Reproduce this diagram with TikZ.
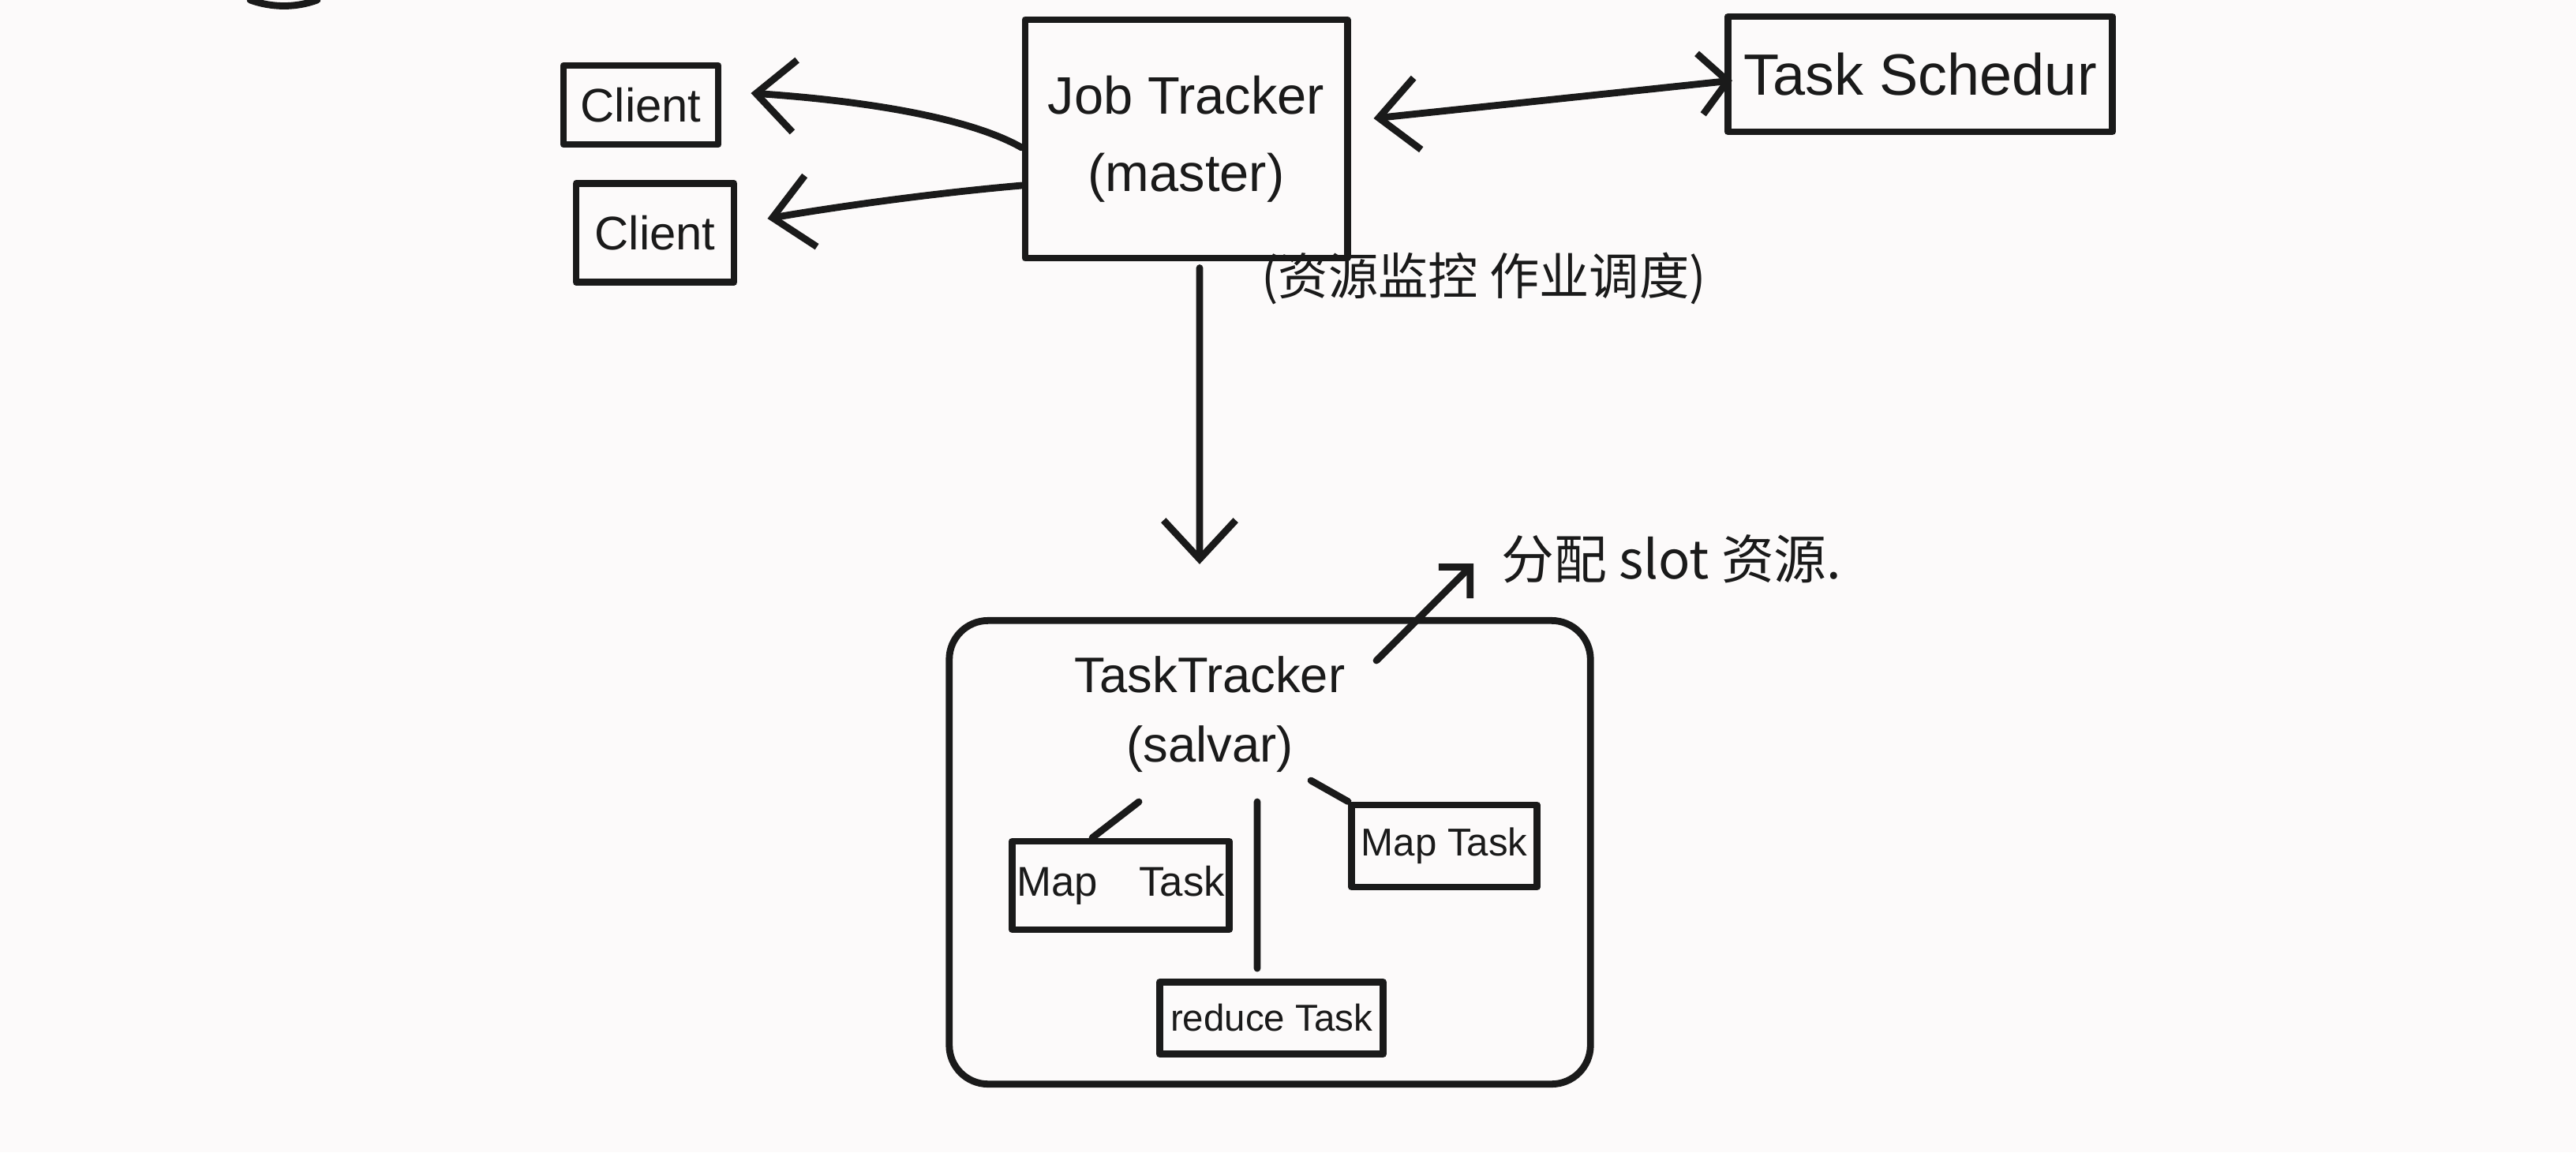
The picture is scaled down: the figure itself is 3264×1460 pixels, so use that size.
\documentclass[tikz,border=0pt]{standalone}
\usepackage{fontspec}
\setmainfont{Liberation Sans}
\newfontfamily\cjk{Noto Sans CJK SC}
\usetikzlibrary{arrows.meta}
\definecolor{paper}{HTML}{FCFAFA}
\definecolor{inkc}{HTML}{1A1A1A}
\begin{document}
\begin{tikzpicture}[x=0.01cm,y=-0.01cm,
  ink/.style={line width=2.5pt, draw=inkc, line cap=round, line join=round},
  box/.style={ink, rectangle, inner sep=0pt, align=center, text=inkc},
  lbl/.style={inner sep=0pt, align=center, text=inkc},
  barb/.style={-{Straight Barb[length=14pt,width=26pt,line width=2.5pt]}},
  smallbarb/.style={-{Straight Barb[length=8pt,width=16pt,line width=2.5pt]}},
  barbs/.style={{Straight Barb[length=14pt,width=26pt,line width=2.5pt]}-{Straight Barb[length=10pt,width=22pt,line width=2.5pt]}}
]
\fill[paper] (0,0) rectangle (3264,1460);
\useasboundingbox (0,0) rectangle (3264,1460);

% stray stroke at the top edge
\draw[ink] (317,0) .. controls (345,10) and (375,10) .. (402,0);

% nodes
\node[box, minimum width=1.96cm, minimum height=1.0cm, font=\fontsize{17}{20}\selectfont] (c1) at (812,133) {Client};
\node[box, minimum width=2.0cm, minimum height=1.25cm, font=\fontsize{17}{20}\selectfont] (c2) at (830,295) {Client};
\node[box, minimum width=4.08cm, minimum height=3.02cm, font=\fontsize{19}{28}\selectfont] (jt) at (1503,176) {Job Tracker\\(master)};
\node[box, minimum width=4.87cm, minimum height=1.46cm, font=\fontsize{21}{24}\selectfont] (ts) at (2433,94) {Task Schedur};
\node[box, rounded corners=14pt, minimum width=8.12cm, minimum height=5.87cm] (tt) at (1609,1080) {};
\node[lbl, font=\fontsize{18}{25}\selectfont] (ttl) at (1533,905) {TaskTracker\\(salvar)};
\node[box, minimum width=2.75cm, minimum height=1.12cm, font=\fontsize{15}{18}\selectfont] (m1) at (1420,1122) {Map\quad Task};
\node[box, minimum width=2.35cm, minimum height=1.04cm, font=\fontsize{14}{17}\selectfont] (m2) at (1830,1072) {Map Task};
\node[box, minimum width=2.83cm, minimum height=0.91cm, font=\fontsize{13.5}{16}\selectfont] (rd) at (1611,1290) {reduce Task};

\node[lbl, font=\cjk\fontsize{18}{20}\selectfont] (l1) at (1880,353) {(资源监控\ 作业调度)};
\node[lbl, font=\cjk\fontsize{19}{22}\selectfont] (l2) at (2118,708) {分配 slot 资源.};

% connectors
\draw[ink, barb] ([yshift=-0.11cm]jt.west) .. controls (1230,150) and (1100,128) .. ([xshift=0.37cm,yshift=0.15cm]c1.east);
\draw[ink, barb] ([yshift=-0.59cm]jt.west) .. controls (1180,245) and (1060,262) .. ([xshift=0.38cm,yshift=0.18cm]c2.east);
\draw[ink, barbs] ([xshift=0.29cm,yshift=0.26cm]jt.east) -- ([xshift=0.1cm,yshift=-0.08cm]ts.west);
\draw[ink, barb] ([xshift=0.17cm,yshift=-0.08cm]jt.south) -- ([xshift=-0.89cm,yshift=0.67cm]tt.north);

\coordinate (a1) at (1744,837);
\draw[ink, smallbarb] (a1) -- ([xshift=-0.35cm,yshift=-0.06cm]l2.west);

\coordinate (s1) at (1443,1016);
\coordinate (s2) at (1593,1016);
\coordinate (s3) at (1661,989);
\draw[ink] (s1) -- ([xshift=-0.36cm]m1.north);
\draw[ink] (s2) -- ([xshift=-0.18cm,yshift=0.13cm]rd.north);
\draw[ink] (s3) -- (m2.north west);
\end{tikzpicture}
\end{document}
